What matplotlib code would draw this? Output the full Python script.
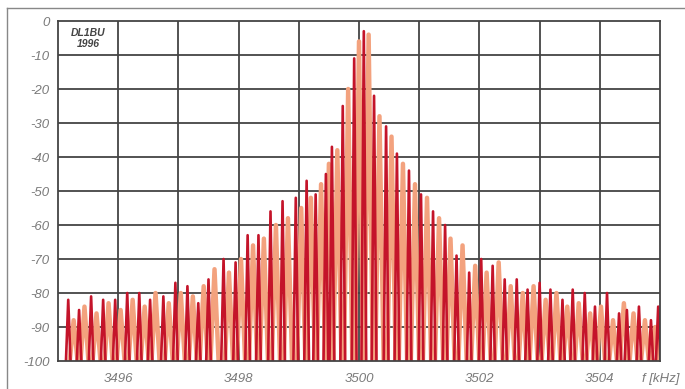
import matplotlib.pyplot as plt
from matplotlib.lines import Line2D

# spectrum lines (frequency in kHz, level in dB)
dark_freq = [3495.17, 3495.35, 3495.55, 3495.75, 3495.95, 3496.15, 3496.35, 3496.53,
             3496.75, 3496.95, 3497.15, 3497.33, 3497.50, 3497.75, 3497.95, 3498.15,
             3498.33, 3498.53, 3498.73, 3498.95, 3499.13, 3499.28, 3499.45, 3499.55,
             3499.73, 3499.92, 3500.08,
             3500.25, 3500.45, 3500.63, 3500.83, 3501.03, 3501.23, 3501.43, 3501.62,
             3501.83, 3502.03, 3502.22, 3502.42, 3502.62, 3502.80, 3503.00, 3503.18,
             3503.38, 3503.55, 3503.75, 3503.92, 3504.12, 3504.32, 3504.45, 3504.65,
             3504.85, 3504.97]
dark_level = [-82, -85, -81, -82, -82, -80, -80, -82,
              -81, -77, -78, -83, -76, -70, -71, -63,
              -63, -56, -53, -52, -47, -51, -45, -37,
              -25, -11, -3,
              -22, -31, -39, -44, -51, -56, -60, -69,
              -74, -70, -72, -76, -76, -79, -77, -79,
              -82, -79, -80, -84, -80, -86, -85, -84,
              -88, -84]

light_freq = [3495.26, 3495.44, 3495.64, 3495.84, 3496.04, 3496.24, 3496.44, 3496.62,
              3496.84, 3497.04, 3497.24, 3497.42, 3497.60, 3497.84, 3498.04, 3498.24,
              3498.42, 3498.62, 3498.82, 3499.04, 3499.20, 3499.37, 3499.50, 3499.64,
              3499.82, 3500.00, 3500.16,
              3500.34, 3500.54, 3500.73, 3500.93, 3501.13, 3501.33, 3501.52, 3501.72,
              3501.93, 3502.12, 3502.32, 3502.52, 3502.72, 3502.90, 3503.10, 3503.28,
              3503.46, 3503.65, 3503.84, 3504.02, 3504.22, 3504.40, 3504.56, 3504.75,
              3504.92]
light_level = [-88, -84, -86, -83, -85, -82, -84, -80,
               -83, -80, -81, -78, -73, -74, -70, -66,
               -64, -60, -58, -55, -52, -48, -42, -38,
               -20, -6, -4,
               -28, -34, -42, -48, -52, -58, -64, -66,
               -72, -74, -71, -78, -80, -78, -82, -80,
               -84, -83, -86, -84, -88, -83, -86, -88,
               -90]

x_ticks = [3496, 3498, 3500, 3502, 3504]
y_ticks = [0, -10, -20, -30, -40, -50, -60, -70, -80, -90, -100]
FLOOR = -101


def spikes(freqs, levels, half):
    xs, ys = [], []
    for f, p in zip(freqs, levels):
        xs += [f - half, f, f + half]
        ys += [FLOOR, p, FLOOR]
    return xs, ys


fig = plt.figure(figsize=(6.85, 3.89), dpi=100)
ax = fig.add_axes([58 / 685, 1 - 361 / 389, 602 / 685, 340 / 389])

lx, ly = spikes(light_freq, light_level, 0.07)
ax.plot(lx, ly, color='#f3a27e', lw=3.2)
dx, dy = spikes(dark_freq, dark_level, 0.04)
ax.plot(dx, dy, color='#c4142a', lw=1.9)

ax.set_xlim(3495, 3505)
ax.set_ylim(-100, 0)
for v in range(3496, 3505):
    ax.axvline(v, color='#444444', lw=1.3, zorder=0.5)
for v in y_ticks[1:-1]:
    ax.axhline(v, color='#444444', lw=1.3, zorder=0.5)
for s in ax.spines.values():
    s.set_color('#444444')
    s.set_linewidth(1.3)

lab = dict(color='#7a7a7a', fontstyle='italic', fontsize=9.5, family='Liberation Sans')
ax.set_xticks(x_ticks)
ax.set_xticklabels([str(t) for t in x_ticks], **lab)
ax.set_yticks(y_ticks)
ax.set_yticklabels([str(t) for t in y_ticks], **lab)
ax.tick_params(axis='x', length=0, pad=9)
ax.tick_params(axis='y', length=0, pad=6)
ax.text(3505.33, -105.2, 'f [kHz]', ha='right', va='center', clip_on=False, **lab)

ax.text(3495.5, -2.0, 'DL1BU\n1996', ha='center', va='top', fontsize=7.5,
        fontweight='bold', fontstyle='italic', color='#444444',
        family='Liberation Sans', linespacing=1.1)

# outer frame (left and top edge)
fig.lines.append(Line2D([7 / 685, 7 / 685], [0, 1 - 8 / 389], transform=fig.transFigure,
                        color='#888888', lw=1))
fig.lines.append(Line2D([7 / 685, 1], [1 - 8 / 389, 1 - 8 / 389], transform=fig.transFigure,
                        color='#888888', lw=1))

fig.savefig('out.png', dpi=100)
